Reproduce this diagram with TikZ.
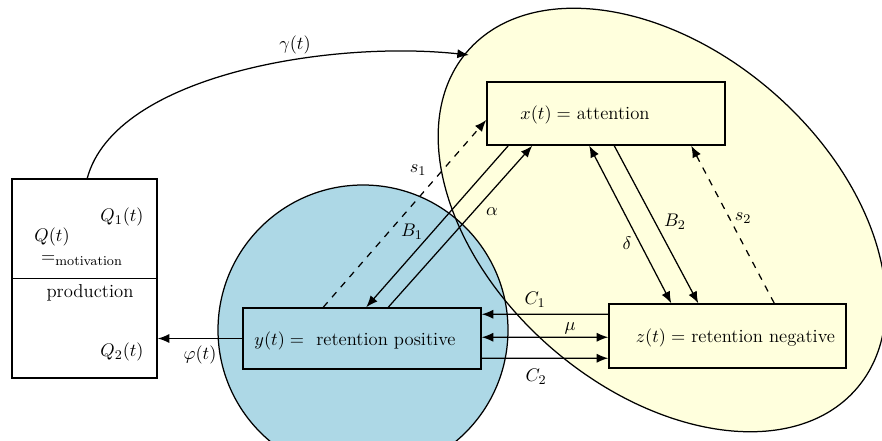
\documentclass[tikz,border=0pt]{standalone}
\usetikzlibrary{arrows.meta,calc}
\definecolor{ellfill}{RGB}{255,255,221}
\definecolor{circfill}{RGB}{173,216,230}
\begin{document}
\begin{tikzpicture}[x=0.6pt,y=-0.6pt,
  every node/.style={font=\fontsize{11.2}{13}\selectfont},
  box/.style={draw, line width=0.9pt, minimum width=142.8pt, minimum height=37.8pt, inner sep=0pt},
  arr/.style={line width=0.75pt, -{Latex[length=7pt,width=5.5pt]}},
  darr/.style={line width=0.75pt, {Latex[length=7pt,width=5.5pt]}-{Latex[length=7pt,width=5.5pt]}},
  dasharr/.style={line width=0.75pt, dash pattern=on 4pt off 4pt, -{Latex[length=7pt,width=5.5pt]}},
  lbl/.style={inner sep=0pt}]
\useasboundingbox (0,0) rectangle (882,441);
% background shapes
\begin{scope}[shift={(662,220)}, rotate=-41]
  \fill[ellfill] (0,0) ellipse [x radius=154.5pt, y radius=101.5pt];
\end{scope}
\fill[circfill] (363,330) circle [radius=87pt];
\begin{scope}[shift={(662,220)}, rotate=-41]
  \draw[line width=0.75pt] (0,0) ellipse [x radius=154.5pt, y radius=101.5pt];
\end{scope}
\draw[line width=0.75pt] (363,330) circle [radius=87pt];
% boxes
\node[box, fill=white, minimum width=87pt, minimum height=119.4pt] (L) at (84.5,278.5) {};
\draw[line width=0.9pt] (L.west) -- (L.east);
\node[box, fill=circfill, minimum height=36.6pt] (Y) at (362,338.5) {};
\node[box, fill=ellfill] (X) at (606,113.5) {};
\node[box, fill=ellfill, minimum width=142.2pt, minimum height=38.4pt] (Z) at (727.5,336) {};
% box texts
\node[lbl] (Xt) at (585,115) {$x(t) =$ attention};
\node[lbl] (Yt) at (355,341) {$y(t) =$\ \ retention positive};
\node[lbl] (Zt) at (735.5,338) {$z(t) =$ retention negative};
\node[lbl] (Q1) at (122,217) {$Q_1(t)$};
\node[lbl] (Q) at (52,237) {$Q(t)$};
\node[lbl] (Qm) at (82,261) {$=_{\mathrm{motivation}}$};
\node[lbl] (Qp) at (90,293) {production};
\node[lbl] (Q2) at (122,352) {$Q_2(t)$};
% connectors
\coordinate (gEnd) at (469,55);
\draw[arr] ($(L.north west)+(76,0)$) .. controls (115,75) and (330,40) .. (gEnd);
\draw[arr] (Y.west) -- (Y.west -| L.east);
\draw[dasharr] ($(Y.north west)+(81,0)$) -- ($(X.west)+(0,6.5)$);
\draw[arr] ($(X.south west)+(22,0)$) -- ($(Y.north west)+(124,0)$);
\draw[arr] ($(Y.north west)+(146,0)$) -- ($(X.south west)+(46,0)$);
\draw[darr] ($(X.south west)+(103,0)$) -- ($(Z.north west)+(63,0)$);
\draw[arr] ($(X.south west)+(128,0)$) -- ($(Z.north west)+(90,0)$);
\draw[dasharr] ($(Z.north west)+(166,0)$) -- ($(X.south west)+(205,0)$);
\draw[arr] ($(Z.north west)+(0,11)$) -- ($(Y.north east)+(0,7)$);
\draw[darr] ($(Y.north east)+(0,30)$) -- ($(Z.north west)+(0,34)$);
\draw[arr] ($(Y.north east)+(0,51)$) -- ($(Z.north west)+(0,55)$);
% labels
\node[lbl] at (295,45) {$\gamma(t)$};
\node[lbl] at (418,170) {$s_1$};
\node[lbl] at (412,232) {$B_1$};
\node[lbl] at (492,212) {$\alpha$};
\node[lbl] at (627,243) {$\delta$};
\node[lbl] at (675,222) {$B_2$};
\node[lbl] at (743,218) {$s_2$};
\node[lbl] at (535,300) {$C_1$};
\node[lbl] at (570,328) {$\mu$};
\node[lbl] at (536,377) {$C_2$};
\node[lbl] at (200,355) {$\varphi(t)$};
\end{tikzpicture}
\end{document}
